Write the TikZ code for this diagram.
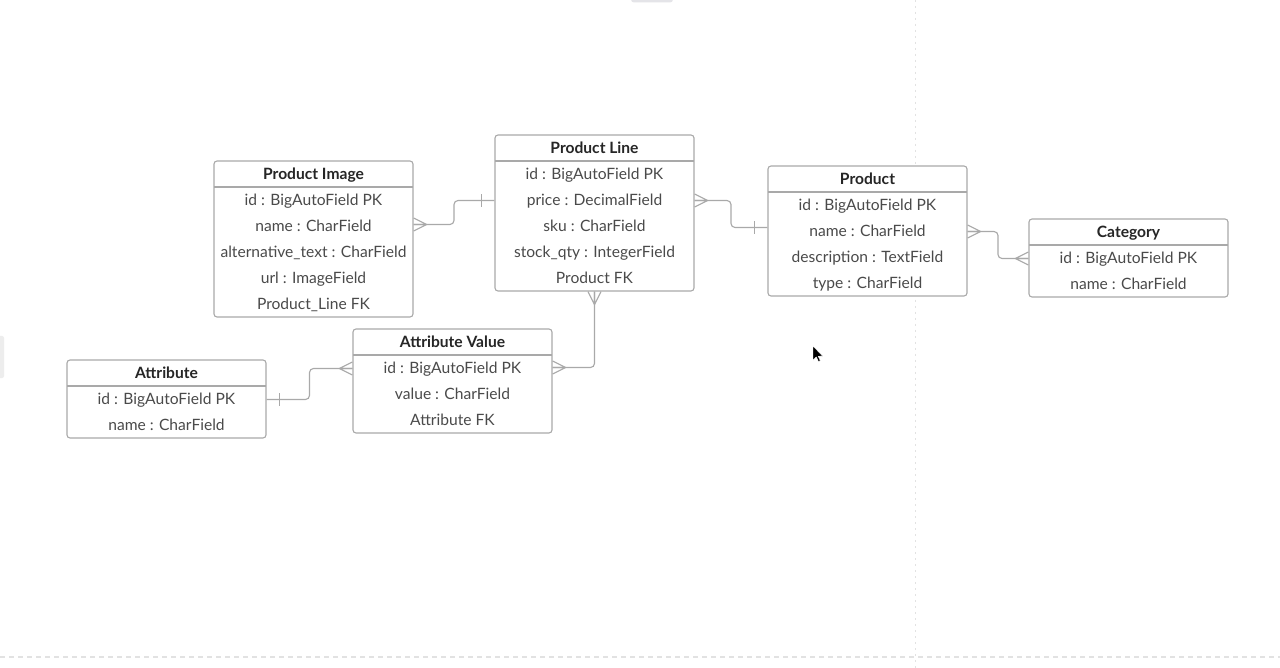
\documentclass[tikz,border=0pt]{standalone}
\usepackage{fontspec}
\setmainfont{Lato}
\usetikzlibrary{calc,fit}
\definecolor{boxline}{HTML}{A9A9A9}
\definecolor{fieldtxt}{HTML}{4A4A4A}
\definecolor{titletxt}{HTML}{262626}
\definecolor{faint}{HTML}{E2E2E2}
\definecolor{tabgray}{HTML}{E4E4E8}
\definecolor{edgegray}{HTML}{EDEDED}
\tikzset{
  entbox/.style={draw=boxline, line width=1.1pt, rounded corners=3pt, inner sep=0pt, fill=white},
  fieldtext/.style={font=\fontsize{15.6}{17}\selectfont, text=fieldtxt, inner sep=0pt, text height=10.5pt, text depth=0pt},
  titletext/.style={font=\fontsize{15.6}{17}\selectfont\bfseries, text=titletxt, inner sep=0pt, text height=10.5pt, text depth=0pt},
  hdrline/.style={draw=boxline, line width=1.1pt},
  rel/.style={draw=boxline, line width=1.1pt, rounded corners=4pt},
  many/.pic={\draw[boxline, line width=1.1pt] (0,-6.5) -- (13,0) -- (0,6.5) (0,0) -- (13,0);},
  one/.pic={\draw[boxline, line width=1.1pt] (13,-6.5) -- (13,6.5);},
}
% #1 name, #2 left, #3 top, #4 number of rows, #5 title, #6 rows
\newcommand{\entity}[6]{%
  \pgfmathsetmacro{\eR}{#2+199}%
  \pgfmathsetmacro{\eB}{#3+26+26*#4}%
  \pgfmathsetmacro{\eC}{#2+99.5}%
  \pgfmathsetmacro{\eH}{#3+26}%
  \pgfmathsetmacro{\eT}{#3+13.5}%
  \coordinate (#1-nw) at (#2,#3);
  \coordinate (#1-se) at (\eR,\eB);
  \node[entbox, fit=(#1-nw)(#1-se)] (#1) {};
  \draw[hdrline] (#2,\eH) -- (\eR,\eH);
  \node[titletext] (#1-t) at (\eC,\eT) {#5};
  \foreach \txt [count=\i] in {#6} {
    \pgfmathsetmacro{\eY}{#3+39.5+26*(\i-1)}
    \node[fieldtext] (#1-\i) at (\eC,\eY) {\txt};
  }
}
\begin{document}
\begin{tikzpicture}[x=1pt,y=-1pt]
\useasboundingbox (0,0) rectangle (1280,668);
\fill[white] (0,0) rectangle (1280,668);
% faint screen artefacts
\draw[faint, line width=1pt, dash pattern=on 2pt off 4pt] (915,0) -- (915,668);
\draw[faint, line width=1.2pt, dash pattern=on 5pt off 4pt] (0,657) -- (1280,657);
\fill[tabgray, rounded corners=3pt] (631,-6) rectangle (673,2.5);
\fill[edgegray, rounded corners=2pt] (-3,336) rectangle (4,378);

\entity{pi}{214}{161}{5}{Product Image}{id : BigAutoField PK, name : CharField, alternative\_text : CharField, url : ImageField, Product\_Line FK}
\entity{pl}{495}{135}{5}{Product Line}{id : BigAutoField PK, price : DecimalField, sku : CharField, stock\_qty : IntegerField, Product FK}
\entity{pr}{768}{166}{4}{Product}{id : BigAutoField PK, name : CharField, description : TextField, type : CharField}
\entity{ca}{1029}{219}{2}{Category}{id : BigAutoField PK, name : CharField}
\entity{at}{67}{360}{2}{Attribute}{id : BigAutoField PK, name : CharField}
\entity{av}{353}{329}{3}{Attribute Value}{id : BigAutoField PK, value : CharField, Attribute FK}

% connection end points and bend columns
\coordinate (piR) at ($(pi-2 -| pi.east)+(0,-2)$);
\coordinate (plL) at (pl-2 -| pl.west);
\coordinate (plR) at (pl-2 -| pl.east);
\coordinate (prL) at ($(pr-2 -| pr.west)+(0,-4)$);
\coordinate (prR) at (pr-2 -| pr.east);
\coordinate (caL) at (ca-1 -| ca.west);
\coordinate (atR) at (at-1 -| at.east);
\coordinate (avL) at (av-1 -| av.west);
\coordinate (avR) at ($(av-1 -| av.east)+(0,-1)$);
\coordinate (m1) at ($(pi.east)!.5!(pl.west)$);
\coordinate (m2) at ($(pl.east)!.5!(pr.west)$);
\coordinate (m3) at ($(pr.east)!.5!(ca.west)$);
\coordinate (m4) at ($(at.east)!.5!(av.west)$);

% Product Image -> Product Line
\draw[rel] (piR) -| (m1 |- plL) -- (plL);
\pic at (piR) {many};
\pic[rotate=180] at (plL) {one};

% Product Line -> Product
\draw[rel] (plR) -| (m2 |- prL) -- (prL);
\pic at (plR) {many};
\pic[rotate=180] at (prL) {one};

% Product -> Category
\draw[rel] (prR) -| (m3 |- caL) -- (caL);
\pic at (prR) {many};
\pic[rotate=180] at (caL) {many};

% Attribute -> Attribute Value
\draw[rel] (atR) -| (m4 |- avL) -- (avL);
\pic at (atR) {one};
\pic[rotate=180] at (avL) {many};

% Attribute Value -> Product Line
\draw[rel] (avR) -| (pl.south);
\pic at (avR) {many};
\pic[rotate=-90] at (pl.south) {many};

% mouse pointer
\filldraw[fill=black, draw=white, line width=0.4pt] (813,346) -- (813,360) -- (816.3,357) -- (818.5,361.5) -- (820.3,360.7) -- (818.2,356.3) -- (822.5,356) -- cycle;
\end{tikzpicture}
\end{document}
